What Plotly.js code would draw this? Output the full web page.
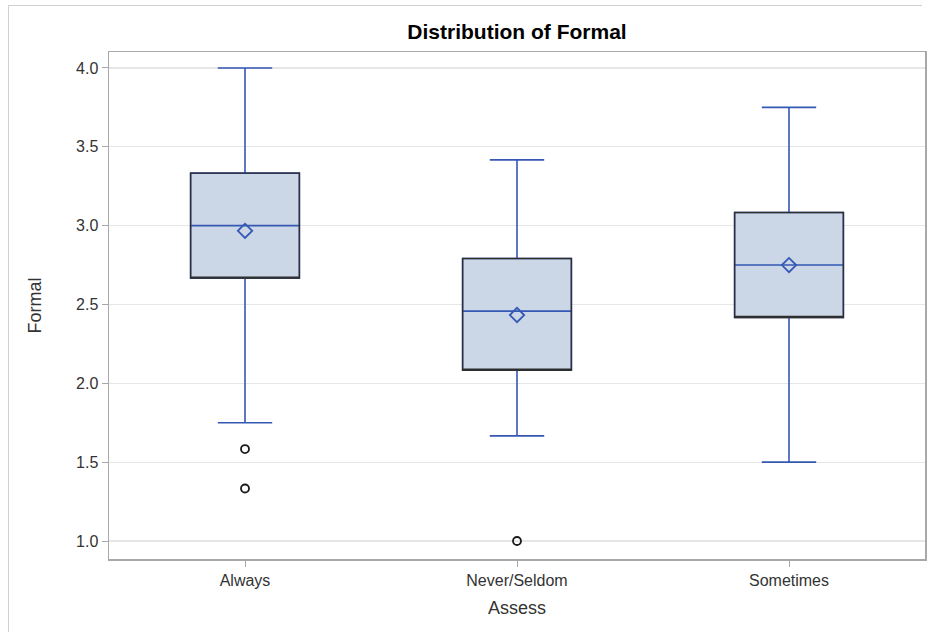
<!DOCTYPE html>
<html>
<head>
<meta charset="utf-8">
<script src="https://cdn.plot.ly/plotly-3.0.1.min.js"></script>
<style>
  html, body { margin: 0; padding: 0; background: #fff; }
  #wrap { position: relative; width: 930px; height: 632px; }
  #chart { width: 930px; height: 632px; }
  #frame { position: absolute; left: 8px; top: 5px; right: 8px; bottom: 0; border-top: 1px solid #d0d0d0; border-left: 1px solid #d0d0d0; pointer-events: none; }
</style>
</head>
<body>
<div id="wrap">
  <div id="chart"></div>
  <div id="frame"></div>
</div>
<script>
const categories = ['Always', 'Never/Seldom', 'Sometimes'];
const q1Values = [2.667, 2.083, 2.417];
const medianValues = [3.0, 2.458, 2.75];
const q3Values = [3.333, 2.792, 3.083];
const lowerWhisker = [1.75, 1.667, 1.5];
const upperWhisker = [4.0, 3.417, 3.75];
const meanValues = [2.967, 2.433, 2.75];
const outlierCategories = ['Always', 'Always', 'Never/Seldom'];
const outlierValues = [1.583, 1.333, 1.0];

const blue = '#3558b4';
const fill = '#cbd6e6';
const fontFam = '"Liberation Sans", Arial, sans-serif';

const traces = [
  {
    type: 'box',
    x: categories,
    q1: q1Values,
    median: medianValues,
    q3: q3Values,
    lowerfence: lowerWhisker,
    upperfence: upperWhisker,
    width: 0.4,
    whiskerwidth: 0.5,
    fillcolor: fill,
    line: { color: blue, width: 1.6 },
    boxpoints: false,
    hoverinfo: 'skip',
    showlegend: false
  },
  {
    type: 'box',
    x: categories,
    q1: q1Values,
    median: q1Values,
    q3: q3Values,
    lowerfence: q1Values,
    upperfence: q3Values,
    width: 0.4,
    whiskerwidth: 0,
    fillcolor: 'rgba(0,0,0,0)',
    line: { color: '#2e2e2e', width: 1.4 },
    boxpoints: false,
    hoverinfo: 'skip',
    showlegend: false
  },
  {
    type: 'scatter',
    mode: 'markers',
    x: categories,
    y: meanValues,
    marker: { symbol: 'diamond-open', size: 11, color: blue, line: { width: 1.8, color: blue } },
    hoverinfo: 'skip',
    showlegend: false
  },
  {
    type: 'scatter',
    mode: 'markers',
    x: outlierCategories,
    y: outlierValues,
    marker: { symbol: 'circle-open', size: 8, color: '#1a1a1a', line: { width: 1.8, color: '#1a1a1a' } },
    hoverinfo: 'skip',
    showlegend: false
  }
];

const layout = {
  width: 930,
  height: 632,
  margin: { l: 109, r: 5, t: 52, b: 73 },
  paper_bgcolor: '#fff',
  plot_bgcolor: '#fff',
  boxmode: 'overlay',
  font: { family: fontFam, size: 16, color: '#333' },
  title: {
    text: '<b>Distribution of Formal</b>',
    font: { family: fontFam, size: 21, color: '#000' },
    x: 0.5, xref: 'paper', xanchor: 'center',
    y: 1 - 32 / 632, yref: 'container', yanchor: 'middle'
  },
  xaxis: {
    type: 'category',
    categoryorder: 'array',
    categoryarray: categories,
    range: [-0.5, 2.5],
    showgrid: false,
    zeroline: false,
    showline: true,
    mirror: true,
    linecolor: '#a8a8a8',
    linewidth: 1.5,
    ticks: 'outside',
    ticklen: 6,
    tickcolor: '#a8a8a8',
    tickfont: { size: 16, color: '#333' },
    title: { text: 'Assess', font: { size: 18, color: '#333' }, standoff: 13 }
  },
  yaxis: {
    range: [0.886, 4.101],
    tickvals: [1.0, 1.5, 2.0, 2.5, 3.0, 3.5, 4.0],
    ticktext: ['1.0', '1.5', '2.0', '2.5', '3.0', '3.5', '4.0'],
    showgrid: true,
    gridcolor: '#e6e6e6',
    gridwidth: 1.2,
    zeroline: false,
    showline: true,
    mirror: true,
    linecolor: '#a8a8a8',
    linewidth: 1.5,
    ticks: 'outside',
    ticklen: 6,
    tickcolor: '#a8a8a8',
    tickfont: { size: 16, color: '#333' },
    title: { text: 'Formal', font: { size: 18, color: '#333' }, standoff: 29 }
  }
};

Plotly.newPlot('chart', traces, layout, { staticPlot: true, displayModeBar: false });
</script>
</body>
</html>
